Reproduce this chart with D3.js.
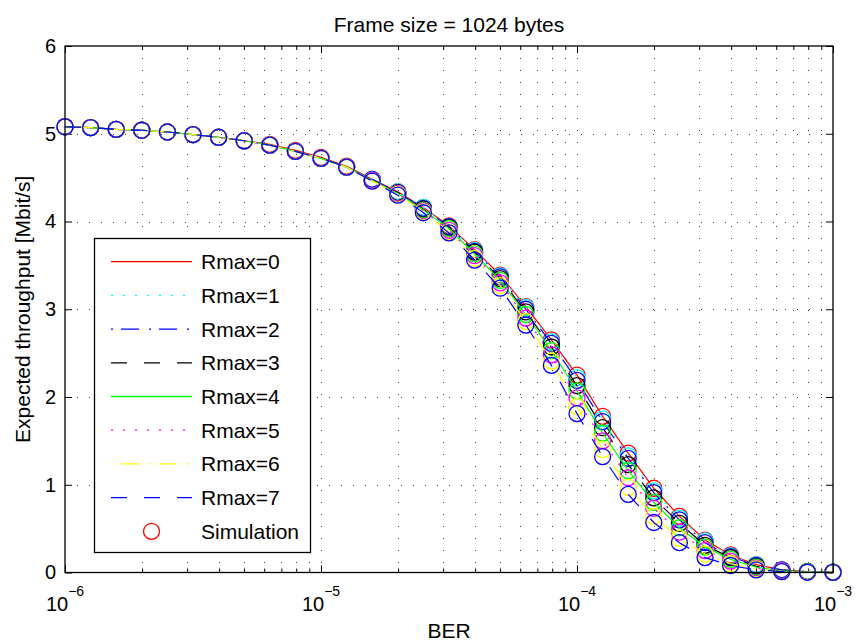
<!DOCTYPE html>
<html>
<head>
<meta charset="utf-8">
<script src="https://cdn.jsdelivr.net/npm/d3@7"></script>
<style>
  html, body { margin: 0; padding: 0; background: #fff; }
  svg { display: block; font-family: "Liberation Sans", Arial, Helvetica, sans-serif; }
</style>
</head>
<body>
<svg id="chart" width="856" height="644"></svg>
<script>
// ---------- data ----------
const ber = [1.000e-6, 1.259e-6, 1.585e-6, 1.995e-6, 2.512e-6, 3.162e-6, 3.981e-6, 5.012e-6, 6.310e-6, 7.943e-6,
             1.000e-5, 1.259e-5, 1.585e-5, 1.995e-5, 2.512e-5, 3.162e-5, 3.981e-5, 5.012e-5, 6.310e-5, 7.943e-5,
             1.000e-4, 1.259e-4, 1.585e-4, 1.995e-4, 2.512e-4, 3.162e-4, 3.981e-4, 5.012e-4, 6.310e-4, 7.943e-4,
             1.000e-3];

const rmax0 = [5.08,5.07,5.05,5.04,5.02,4.99,4.96,4.92,4.88,4.81,4.73,4.63,4.48,4.34,4.16,3.95,3.68,3.39,3.03,2.65,2.25,1.78,1.36,0.96,0.64,0.37,0.20,0.09,0.03,0.01,0.004];
const rmax1 = [5.08,5.07,5.05,5.04,5.02,4.99,4.96,4.92,4.87,4.80,4.72,4.62,4.48,4.34,4.16,3.94,3.67,3.38,3.02,2.63,2.22,1.75,1.33,0.93,0.62,0.36,0.19,0.09,0.03,0.01,0.004];
const rmax2 = [5.08,5.07,5.05,5.04,5.02,4.99,4.96,4.92,4.87,4.80,4.72,4.62,4.48,4.33,4.15,3.94,3.66,3.37,3.00,2.61,2.19,1.72,1.30,0.91,0.60,0.34,0.18,0.08,0.03,0.01,0.004];
const rmax3 = [5.08,5.07,5.05,5.04,5.02,4.99,4.96,4.92,4.87,4.80,4.72,4.62,4.47,4.33,4.14,3.93,3.65,3.35,2.97,2.57,2.13,1.65,1.23,0.85,0.56,0.31,0.17,0.07,0.02,0.01,0.003];
const rmax4 = [5.08,5.07,5.05,5.04,5.02,4.99,4.96,4.92,4.87,4.80,4.72,4.62,4.47,4.32,4.13,3.92,3.63,3.33,2.94,2.53,2.07,1.59,1.16,0.80,0.51,0.29,0.15,0.06,0.02,0.01,0.003];
const rmax5 = [5.08,5.07,5.05,5.04,5.02,4.99,4.96,4.92,4.87,4.80,4.72,4.62,4.47,4.32,4.12,3.90,3.61,3.30,2.90,2.48,1.99,1.50,1.08,0.73,0.46,0.25,0.13,0.05,0.02,0.005,0.002];
const rmax6 = [5.08,5.07,5.05,5.04,5.02,4.99,4.96,4.92,4.87,4.80,4.72,4.62,4.46,4.31,4.11,3.88,3.58,3.27,2.86,2.41,1.89,1.40,0.97,0.64,0.39,0.21,0.10,0.04,0.01,0.004,0.002];
const rmax7 = [5.08,5.07,5.05,5.04,5.02,4.99,4.96,4.92,4.87,4.80,4.72,4.62,4.46,4.30,4.10,3.87,3.56,3.24,2.82,2.36,1.81,1.32,0.89,0.57,0.34,0.17,0.08,0.03,0.01,0.003,0.001];

const seriesNames = ["Rmax=0","Rmax=1","Rmax=2","Rmax=3","Rmax=4","Rmax=5","Rmax=6","Rmax=7"];
const seriesValues = [rmax0, rmax1, rmax2, rmax3, rmax4, rmax5, rmax6, rmax7];
const simLabel = "Simulation";

const xMajorTicks = [1e-6, 1e-5, 1e-4, 1e-3];
const xMajorExp = ["−6", "−5", "−4", "−3"];
const yTicks = [0, 1, 2, 3, 4, 5, 6];

const titleText = "Frame size = 1024 bytes";
const xLabelText = "BER";
const yLabelText = "Expected throughput [Mbit/s]";

// ---------- styles ----------
const colors = ["#ff0000", "#00ffff", "#0000ff", "#000000", "#00ff00", "#ff00ff", "#ffff00", "#0000ff"];
const dashes = [null, "2,10", "2,8,18,10", "16,17", null, "2,10", "2,8,18,10", "16,17"];

// ---------- layout ----------
const L = 65, R = 833, T = 46, B = 572.5;
const svg = d3.select("#chart");

const x = d3.scaleLog().domain([1e-6, 1e-3]).range([L, R]);
const y = d3.scaleLinear().domain([0, 6]).range([B, T]);

// minor tick values (2..9 per decade)
const xMinor = [];
[1e-6, 1e-5, 1e-4].forEach(d => { for (let m = 2; m <= 9; m++) xMinor.push(d * m); });

// ---------- grid ----------
const grid = svg.append("g").attr("stroke", "#000").attr("stroke-width", 1).attr("fill", "none");
grid.selectAll(".vg").data(xMinor.concat([1e-5, 1e-4])).enter().append("line")
  .attr("x1", d => Math.round(x(d)) + 0.5).attr("x2", d => Math.round(x(d)) + 0.5)
  .attr("y1", T).attr("y2", B)
  .attr("stroke-dasharray", "1,11").attr("opacity", 0.75);
grid.selectAll(".hg").data(yTicks.filter(v => v > 0 && v < 6)).enter().append("line")
  .attr("x1", L).attr("x2", R)
  .attr("y1", d => Math.round(y(d)) + 0.5).attr("y2", d => Math.round(y(d)) + 0.5)
  .attr("stroke-dasharray", "1,11").attr("opacity", 0.75);

// ---------- axes (ticks inward) ----------
function styleAxis(g) {
  g.select(".domain").remove();
  g.selectAll(".tick line").attr("stroke", "#000").attr("stroke-width", 1);
}
svg.append("g").attr("transform", `translate(0,${B})`)
  .call(d3.axisBottom(x).tickValues(xMajorTicks).tickSize(-7).tickFormat(""))
  .call(styleAxis);
svg.append("g").attr("transform", `translate(0,${B})`)
  .call(d3.axisBottom(x).tickValues(xMinor).tickSize(-4).tickFormat(""))
  .call(styleAxis);
svg.append("g").attr("transform", `translate(0,${T})`)
  .call(d3.axisTop(x).tickValues(xMajorTicks).tickSize(-7).tickFormat(""))
  .call(styleAxis);
svg.append("g").attr("transform", `translate(0,${T})`)
  .call(d3.axisTop(x).tickValues(xMinor).tickSize(-4).tickFormat(""))
  .call(styleAxis);

const yAxis = svg.append("g").attr("transform", `translate(${L},0)`)
  .call(d3.axisLeft(y).tickValues(yTicks).tickSize(-7).tickPadding(9).tickFormat(d3.format("d")))
  .call(styleAxis);
yAxis.selectAll(".tick text").attr("font-size", 20).attr("fill", "#000")
  .attr("font-family", "Liberation Sans, Arial, sans-serif");
svg.append("g").attr("transform", `translate(${R},0)`)
  .call(d3.axisRight(y).tickValues(yTicks).tickSize(-7).tickFormat(""))
  .call(styleAxis);

// x tick labels with superscripts
const xl = svg.append("g").attr("font-size", 20).attr("fill", "#000");
xMajorTicks.forEach((v, i) => {
  const t = xl.append("text").attr("x", x(v)).attr("y", 611).attr("text-anchor", "middle");
  t.append("tspan").text("10");
  t.append("tspan").attr("dy", -15).attr("font-size", 14).text(xMajorExp[i]);
});

// ---------- series ----------
const line = d3.line().x((d, i) => x(ber[i])).y(d => y(d));
seriesValues.forEach((vals, s) => {
  const g = svg.append("g");
  g.append("path").datum(vals)
    .attr("d", line)
    .attr("fill", "none")
    .attr("stroke", colors[s])
    .attr("stroke-width", 1.2)
    .attr("stroke-dasharray", dashes[s]);
  g.selectAll("circle").data(vals).enter().append("circle")
    .attr("cx", (d, i) => x(ber[i]))
    .attr("cy", d => y(d))
    .attr("r", 8)
    .attr("fill", "none")
    .attr("stroke", colors[s])
    .attr("stroke-width", 1.3);
});

// ---------- box ----------
svg.append("rect").attr("x", L).attr("y", T).attr("width", R - L).attr("height", B - T)
  .attr("fill", "none").attr("stroke", "#000").attr("stroke-width", 1.3);

// ---------- legend ----------
const lg = svg.append("g");
lg.append("rect").attr("x", 94.5).attr("y", 238.5).attr("width", 216).attr("height", 314)
  .attr("fill", "#fff").attr("stroke", "#000").attr("stroke-width", 1.3);
const rowY = i => 261.7 + 33.7 * i;
seriesNames.forEach((name, i) => {
  lg.append("line").attr("x1", 111).attr("x2", 192).attr("y1", rowY(i)).attr("y2", rowY(i))
    .attr("stroke", colors[i]).attr("stroke-width", 1.3).attr("stroke-dasharray", dashes[i]);
  lg.append("text").attr("x", 201).attr("y", rowY(i) + 7.5).attr("font-size", 21).attr("fill", "#000").text(name);
});
lg.append("circle").attr("cx", 151.5).attr("cy", rowY(8)).attr("r", 8)
  .attr("fill", "none").attr("stroke", "#ff0000").attr("stroke-width", 1.3);
lg.append("text").attr("x", 201).attr("y", rowY(8) + 7.5).attr("font-size", 21).attr("fill", "#000").text(simLabel);

// ---------- titles ----------
svg.append("text").attr("x", (L + R) / 2).attr("y", 31.5).attr("text-anchor", "middle")
  .attr("font-size", 21).attr("fill", "#000").text(titleText);
svg.append("text").attr("x", (L + R) / 2).attr("y", 638).attr("text-anchor", "middle")
  .attr("font-size", 21).attr("fill", "#000").text(xLabelText);
svg.append("text").attr("transform", `translate(30,${(T + B) / 2}) rotate(-90)`)
  .attr("text-anchor", "middle").attr("font-size", 21).attr("fill", "#000").text(yLabelText);
</script>
</body>
</html>
